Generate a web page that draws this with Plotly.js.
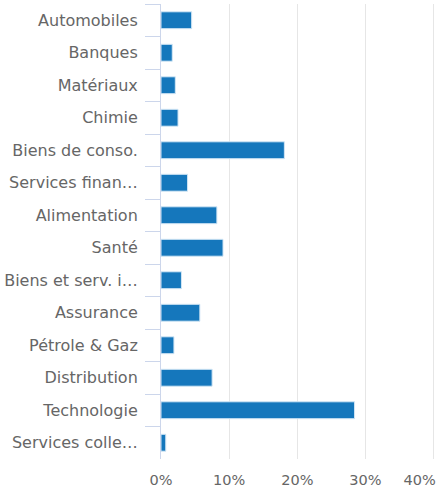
<!DOCTYPE html>
<html>
<head>
<meta charset="utf-8">
<script src="https://cdn.plot.ly/plotly-3.0.1.min.js"></script>
<style>html,body{margin:0;padding:0;background:#fff}#chart{width:436px;height:493px}</style>
</head>
<body>
<div id="chart"></div>
<script>
const categories = ["Automobiles","Banques","Matériaux","Chimie","Biens de conso.","Services finan…","Alimentation","Santé","Biens et serv. i…","Assurance","Pétrole & Gaz","Distribution","Technologie","Services colle…"];
const values = [4.5, 1.65, 2.1, 2.5, 18.1, 3.9, 8.2, 9.1, 3.0, 5.7, 1.9, 7.5, 28.4, 0.7];
const xTickVals = [0, 10, 20, 30];
const xTickText = ["0%", "10%", "20%", "30%"];
const xLastTickVal = [40];
const xLastTickText = ["40%"];

const trace = {
  type: 'bar',
  orientation: 'h',
  y: categories,
  x: values,
  marker: {color: '#1577bc', line: {color: '#d2e6f5', width: 1}},
  hoverinfo: 'x+y'
};
// empty helper trace so the overlay axis carrying the last tick label is drawn
const axisHelper = {type: 'scatter', mode: 'markers', x: [], y: [], xaxis: 'x2', yaxis: 'y', hoverinfo: 'skip', showlegend: false};
const xRange = [0, 40.35];
const layout = {
  width: 436, height: 493,
  margin: {l: 161, r: 0, t: 4, b: 34},
  paper_bgcolor: '#fff', plot_bgcolor: '#fff',
  showlegend: false,
  bargap: 0.48,
  font: {family: 'DejaVu Sans, sans-serif', size: 14, color: '#666'},
  xaxis: {
    range: xRange, tickvals: xTickVals, ticktext: xTickText,
    showgrid: true, gridcolor: '#e6e6e6', gridwidth: 1,
    zeroline: false, showline: false, ticks: '',
    ticklabelstandoff: 10,
    tickfont: {size: 14.5, color: '#666'}, fixedrange: true
  },
  xaxis2: {
    overlaying: 'x', anchor: 'y', side: 'bottom',
    range: xRange, tickvals: xLastTickVal, ticktext: xLastTickText,
    showgrid: true, gridcolor: '#e6e6e6', gridwidth: 1,
    zeroline: false, showline: false, ticks: '',
    ticklabelstandoff: 10, ticklabelshift: -14, ticklabeloverflow: 'allow',
    tickfont: {size: 14.5, color: '#666'}, fixedrange: true
  },
  yaxis: {
    type: 'category', autorange: 'reversed',
    showline: true, linecolor: '#ccd6eb', linewidth: 1,
    ticks: 'outside', tickson: 'boundaries', ticklen: 15, tickcolor: '#ccd6eb', tickwidth: 1,
    ticklabelstandoff: 19,
    tickfont: {size: 16, color: '#666'}, showgrid: false, zeroline: false, fixedrange: true
  }
};
Plotly.newPlot('chart', [trace, axisHelper], layout, {displayModeBar: false, staticPlot: true});
</script>
</body>
</html>
